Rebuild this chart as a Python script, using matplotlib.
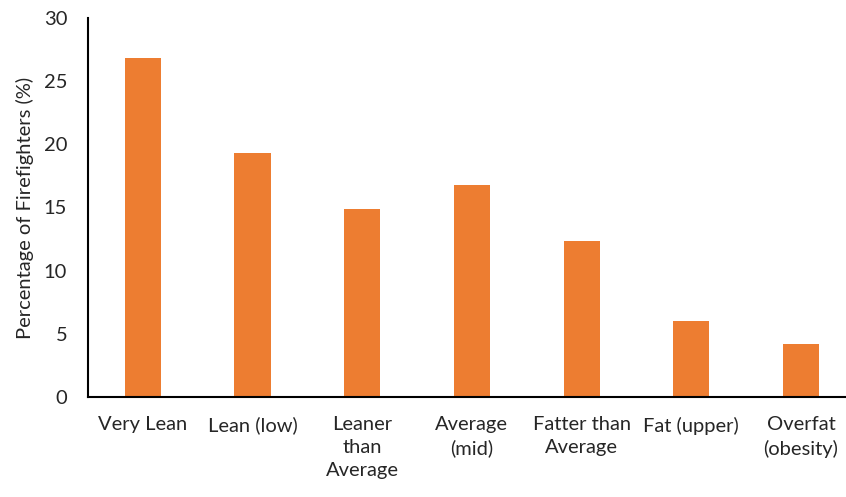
import numpy as np
import matplotlib
matplotlib.use("Agg")
import matplotlib.pyplot as plt

# chart data
categories = ["Very Lean", "Lean (low)", "Leaner\nthan\nAverage", "Average\n(mid)",
              "Fatter than\nAverage", "Fat (upper)", "Overfat\n(obesity)"]
percent = [26.8, 19.3, 14.9, 16.8, 12.35, 6.0, 4.2]
y_ticks = [0, 5, 10, 15, 20, 25, 30]

plt.rcParams['font.family'] = ['Lato', 'DejaVu Sans']

fig = plt.figure(figsize=(8.46, 4.97), dpi=100)
ax = fig.add_axes([88 / 846, 1 - 397 / 497, 1 - 88 / 846, (397 - 18) / 497])

x = np.arange(len(categories))
ax.bar(x, percent, width=0.33, color='#ED7D31')

ax.set_xlim(-0.5, 6.41)
ax.set_ylim(0, 30)
ax.set_yticks(y_ticks)
ax.set_xticks(x)
ax.set_xticklabels(categories, fontsize=14.5, color='#262626', linespacing=1.4, va='top')
ax.tick_params(axis='y', length=0, pad=15, labelsize=14.5, labelcolor='#262626')
ax.tick_params(axis='x', length=0, pad=14)

for s in ['top', 'right']:
    ax.spines[s].set_visible(False)
ax.spines['left'].set_linewidth(1.5)
ax.spines['bottom'].set_linewidth(1.5)

ax.set_ylabel("Percentage of Firefighters (%)", fontsize=14.5, color='#262626', labelpad=7)

fig.savefig("out.png", dpi=100)
